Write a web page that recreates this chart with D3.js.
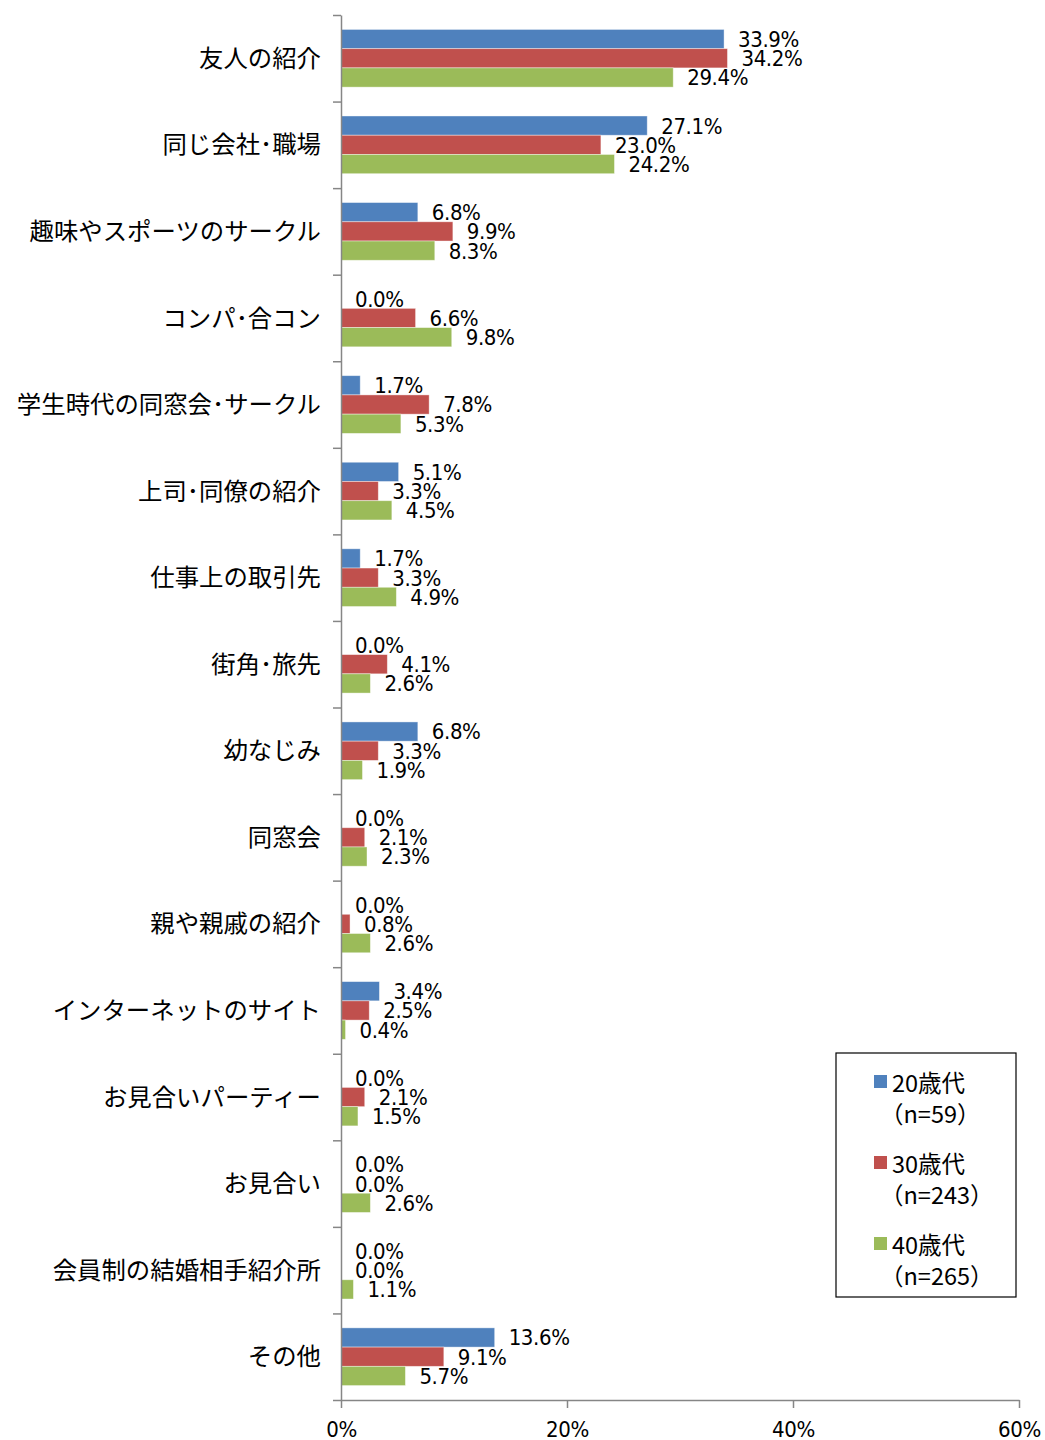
<!DOCTYPE html>
<html>
<head>
<meta charset="utf-8">
<script src="https://cdn.jsdelivr.net/npm/d3@7"></script>
<style>
  body { margin: 0; background: #fff; }
  .cat { font-family: "Noto Sans CJK JP", sans-serif; font-size: 24.4px; }
  .val, .tick text { font-family: "Liberation Sans Narrow", "DejaVu Sans Condensed", sans-serif; font-size: 22px; letter-spacing: -0.4px; }
  .leg { font-family: "Noto Sans CJK JP", sans-serif; font-size: 23.5px; }
</style>
</head>
<body>
<div id="chart"></div>
<script>
let categories = ["友人の紹介", "同じ会社･職場", "趣味やスポーツのサークル", "コンパ･合コン",
    "学生時代の同窓会･サークル", "上司･同僚の紹介", "仕事上の取引先", "街角･旅先", "幼なじみ",
    "同窓会", "親や親戚の紹介", "インターネットのサイト", "お見合いパーティー", "お見合い",
    "会員制の結婚相手紹介所", "その他"];
let series = ["20歳代", "30歳代", "40歳代"];
let series_n = ["（n=59）", "（n=243）", "（n=265）"];
let values_20 = [33.9, 27.1, 6.8, 0.0, 1.7, 5.1, 1.7, 0.0, 6.8, 0.0, 0.0, 3.4, 0.0, 0.0, 0.0, 13.6];
let values_30 = [34.2, 23.0, 9.9, 6.6, 7.8, 3.3, 3.3, 4.1, 3.3, 2.1, 0.8, 2.5, 2.1, 0.0, 0.0, 9.1];
let values_40 = [29.4, 24.2, 8.3, 9.8, 5.3, 4.5, 4.9, 2.6, 1.9, 2.3, 2.6, 0.4, 1.5, 2.6, 1.1, 5.7];
let x_ticks = [0, 20, 40, 60];

let colors = ["#4F81BD", "#C0504D", "#9BBB59"];
let all_values = [values_20, values_30, values_40];

let width = 1045, height = 1440;
let plot_left = 341, plot_right = 1019, plot_top = 15, plot_bottom = 1400;

let svg = d3.select("#chart").append("svg").attr("width", width).attr("height", height);

let x = d3.scaleLinear().domain([0, 60]).range([plot_left, plot_right]);
let y0 = d3.scaleBand().domain(categories).range([plot_top, plot_bottom]);
/* excel gap width 150% -> 3 bars fill 3/4.5 of the band */
let bw = y0.bandwidth();
let off = bw * 0.75 / 4.5;
let y1 = d3.scaleBand().domain(series).range([off, bw - off]);

/* flatten to rows */
let rows = [];
categories.forEach(function(c, i) {
    series.forEach(function(s, j) {
        rows.push({cat: c, s: s, j: j, v: all_values[j][i]});
    });
});

svg.selectAll("rect.bar")
    .data(rows)
    .enter().append("rect")
    .attr("class", "bar")
    .attr("x", x(0))
    .attr("y", function(d) { return y0(d.cat) + y1(d.s); })
    .attr("width", function(d) { return x(d.v) - x(0); })
    .attr("height", y1.bandwidth())
    .attr("fill", function(d) { return colors[d.j]; })
    .attr("stroke", "rgba(255,255,255,0.5)")
    .attr("stroke-width", 0.8);

svg.selectAll("text.val")
    .data(rows)
    .enter().append("text")
    .attr("class", "val")
    .attr("x", function(d) { return x(d.v) + 14; })
    .attr("y", function(d) { return y0(d.cat) + y1(d.s) + y1.bandwidth() / 2; })
    .attr("dy", "0.36em")
    .text(function(d) { return d.v.toFixed(1) + "%"; });

/* category axis: ticks on band boundaries */
let yi = d3.scaleLinear().domain([0, categories.length]).range([plot_top, plot_bottom]);
let yAxis = d3.axisLeft(yi).tickValues(d3.range(0, categories.length + 1)).tickSize(8).tickSizeOuter(0).tickFormat("");
let gy = svg.append("g").attr("transform", "translate(" + plot_left + ",0)").call(yAxis);
gy.selectAll("path, line").attr("stroke", "#868686").attr("stroke-width", 1.5);

svg.selectAll("text.cat")
    .data(categories)
    .enter().append("text")
    .attr("class", "cat")
    .attr("x", 321)
    .attr("y", function(d) { return y0(d) + bw / 2; })
    .attr("dy", "0.35em")
    .attr("text-anchor", "end")
    .text(function(d) { return d; });

let xAxis = d3.axisBottom(x).tickValues(x_ticks).tickSize(8).tickSizeOuter(0).tickFormat(function(d) { return d + "%"; });
let gx = svg.append("g").attr("transform", "translate(0," + plot_bottom + ")").call(xAxis);
gx.selectAll("path, line").attr("stroke", "#868686").attr("stroke-width", 1.5);
gx.selectAll("text").attr("fill", "#000").attr("y", 21).attr("dy", "0.71em");

/* legend */
let lg = svg.append("g").attr("transform", "translate(836,1053)");
lg.append("rect").attr("width", 180).attr("height", 244).attr("fill", "#fff").attr("stroke", "#000").attr("stroke-width", 1.2);
series.forEach(function(s, j) {
    let g = lg.append("g").attr("transform", "translate(0," + (j * 81) + ")");
    g.append("rect").attr("x", 38).attr("y", 22).attr("width", 13).attr("height", 13).attr("fill", colors[j]);
    g.append("text").attr("class", "leg").attr("x", 56).attr("y", 31).attr("dy", "0.35em").text(s);
    g.append("text").attr("class", "leg").attr("x", 44).attr("y", 62).attr("dy", "0.35em").text(series_n[j]);
});
</script>
</body>
</html>
